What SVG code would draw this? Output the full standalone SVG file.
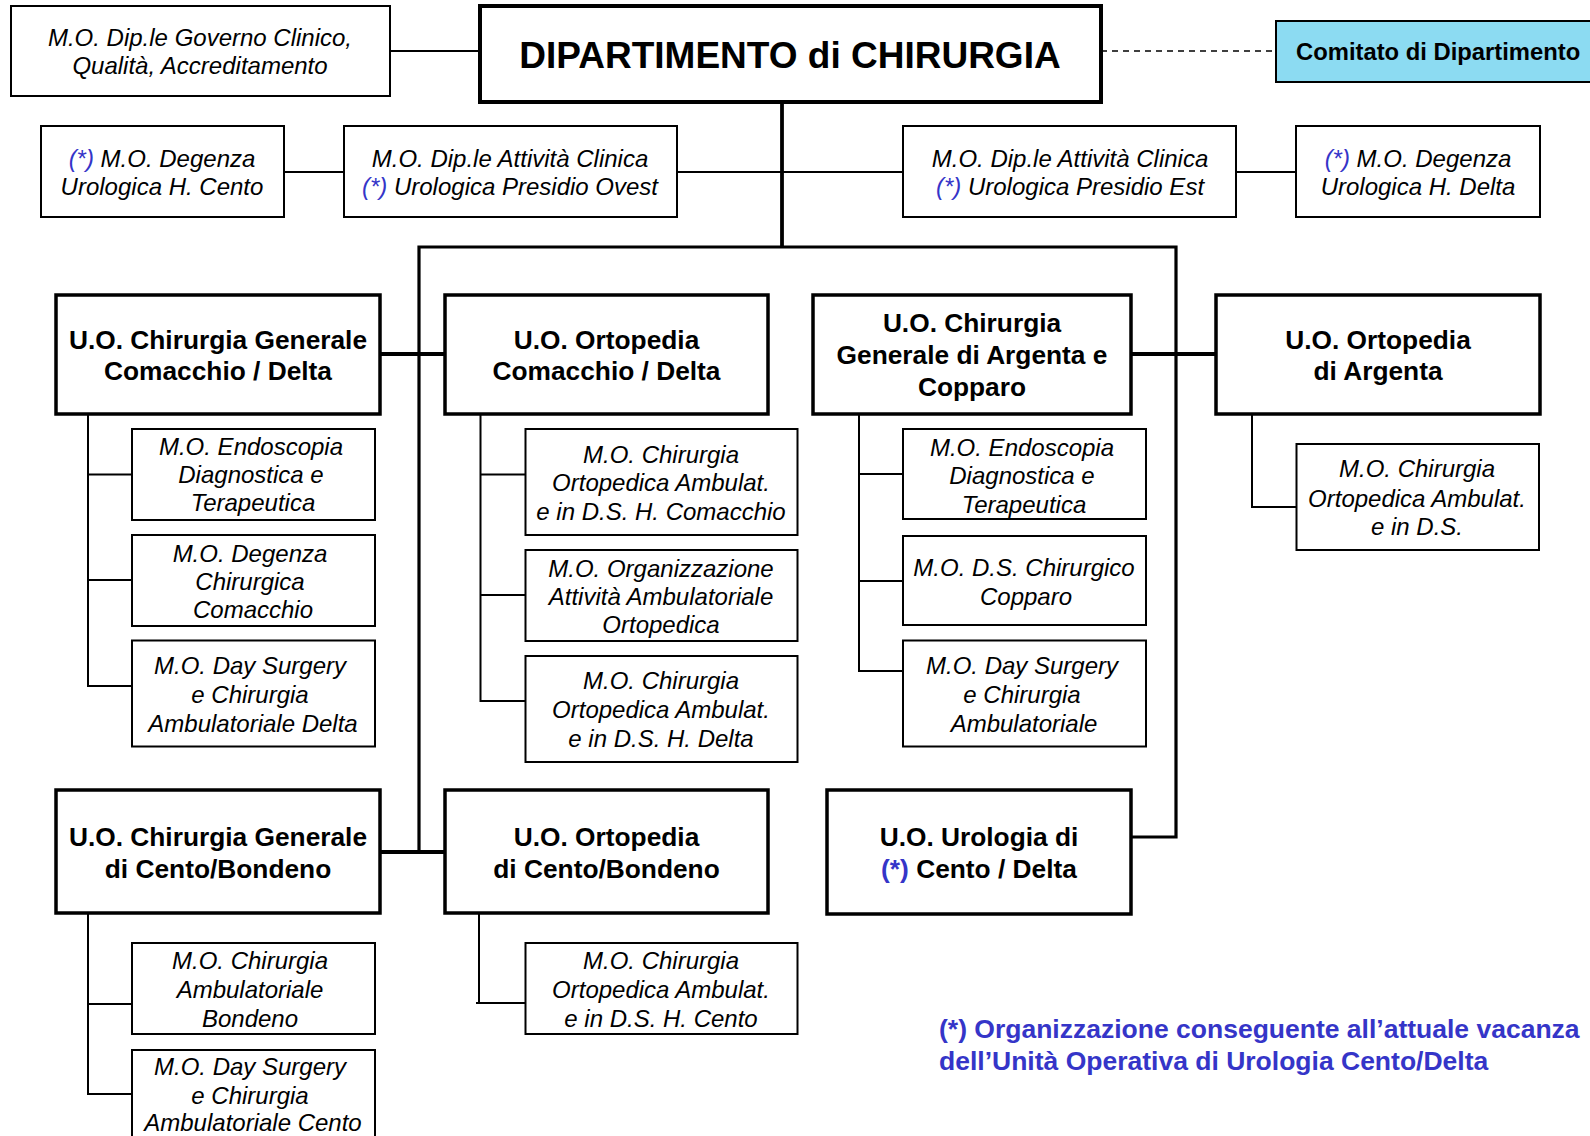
<svg xmlns="http://www.w3.org/2000/svg" width="1590" height="1136" viewBox="0 0 1590 1136">
<style>
  .bg{fill:#ffffff}
  .box{fill:#ffffff;stroke:#000;stroke-width:2}
  .uo{fill:#ffffff;stroke:#000;stroke-width:3.5}
  .dip{fill:#ffffff;stroke:#000;stroke-width:4}
  .com{fill:#8cdbf2;stroke:#000;stroke-width:2}
  .mo{font-family:"Liberation Sans",Arial,sans-serif;font-style:italic;font-size:24px;fill:#000;text-anchor:middle}
  .uot{font-family:"Liberation Sans",Arial,sans-serif;font-weight:bold;font-size:26.3px;fill:#000;text-anchor:middle}
  .star{fill:#3535c8}
  .note{font-family:"Liberation Sans",Arial,sans-serif;font-weight:bold;font-size:26.5px;fill:#3535c8}
  .c{stroke:#000;stroke-width:2;fill:none}
  .ct{stroke:#000;stroke-width:3.2;fill:none}
  .cth{stroke:#000;stroke-width:3.8;fill:none}
  .dash{stroke:#000;stroke-width:1.6;stroke-dasharray:6 5;fill:none}
</style>
<rect class="bg" x="0" y="0" width="1590" height="1136"/>

<g id="connectors">
  <line class="c" x1="390" y1="51" x2="480" y2="51"/>
  <line class="dash" x1="1101" y1="51" x2="1276" y2="51"/>
  <line class="cth" x1="782" y1="101" x2="782" y2="247"/>
  <line class="c" x1="284" y1="172" x2="344" y2="172"/>
  <line class="c" x1="677" y1="172" x2="903" y2="172"/>
  <line class="c" x1="1236" y1="172" x2="1296" y2="172"/>
  <polyline class="ct" points="419,852 419,247 1176,247 1176,837 1131,837"/>
  <line class="cth" x1="375" y1="354" x2="449" y2="354"/>
  <line class="cth" x1="1131" y1="354" x2="1220" y2="354"/>
  <line class="cth" x1="375" y1="852" x2="449" y2="852"/>
  <polyline class="c" points="88,414 88,686 132,686"/>
  <line class="c" x1="88" y1="474.5" x2="132" y2="474.5"/>
  <line class="c" x1="88" y1="580" x2="132" y2="580"/>
  <polyline class="c" points="480.5,414 480.5,701 525.5,701"/>
  <line class="c" x1="480.5" y1="474.5" x2="525.5" y2="474.5"/>
  <line class="c" x1="480.5" y1="595" x2="525.5" y2="595"/>
  <polyline class="c" points="859,414 859,671 903,671"/>
  <line class="c" x1="859" y1="474" x2="903" y2="474"/>
  <line class="c" x1="859" y1="581" x2="903" y2="581"/>
  <polyline class="c" points="1252,414 1252,507 1296.5,507"/>
  <polyline class="c" points="88,913 88,1094 132,1094"/>
  <line class="c" x1="88" y1="1004" x2="132" y2="1004"/>
  <line class="c" x1="479" y1="909" x2="479" y2="1003"/>
  <line class="c" x1="476" y1="1003" x2="525.5" y2="1003"/>
</g>

<g id="n-gov">
  <rect class="box" x="11" y="6" width="379" height="90"/>
  <text class="mo" x="200" y="46">M.O. Dip.le Governo Clinico,</text>
  <text class="mo" x="200" y="73.5">Qualità, Accreditamento</text>
</g>
<g id="n-dip">
  <rect class="dip" x="480" y="6" width="621" height="96"/>
  <text x="790" y="68" font-family="Liberation Sans, Arial, sans-serif" font-weight="bold" font-size="37px" text-anchor="middle">DIPARTIMENTO di CHIRURGIA</text>
</g>
<g id="n-comitato">
  <rect class="com" x="1276" y="21" width="330" height="61"/>
  <text x="1296" y="60" font-family="Liberation Sans, Arial, sans-serif" font-weight="bold" font-size="23.8px">Comitato di Dipartimento</text>
</g>

<g id="n-deg-cento">
  <rect class="box" x="41" y="126" width="243" height="91"/>
  <text class="mo" x="162" y="167"><tspan class="star">(*)</tspan> M.O. Degenza</text>
  <text class="mo" x="162" y="195">Urologica H. Cento</text>
</g>
<g id="n-ovest">
  <rect class="box" x="344" y="126" width="333" height="91"/>
  <text class="mo" x="510" y="167">M.O. Dip.le Attività Clinica</text>
  <text class="mo" x="510" y="195"><tspan class="star">(*)</tspan> Urologica Presidio Ovest</text>
</g>
<g id="n-est">
  <rect class="box" x="903" y="126" width="333" height="91"/>
  <text class="mo" x="1070" y="167">M.O. Dip.le Attività Clinica</text>
  <text class="mo" x="1070" y="195"><tspan class="star">(*)</tspan> Urologica Presidio Est</text>
</g>
<g id="n-deg-delta">
  <rect class="box" x="1296" y="126" width="244" height="91"/>
  <text class="mo" x="1418" y="167"><tspan class="star">(*)</tspan> M.O. Degenza</text>
  <text class="mo" x="1418" y="195">Urologica H. Delta</text>
</g>

<g id="n-uo-chir-comacchio">
  <rect class="uo" x="56" y="295" width="324" height="119"/>
  <text class="uot" x="218" y="349">U.O. Chirurgia Generale</text>
  <text class="uot" x="218" y="380">Comacchio / Delta</text>
</g>
<g id="n-uo-orto-comacchio">
  <rect class="uo" x="445" y="295" width="323" height="119"/>
  <text class="uot" x="606.5" y="349">U.O. Ortopedia</text>
  <text class="uot" x="606.5" y="380">Comacchio / Delta</text>
</g>
<g id="n-uo-chir-argenta">
  <rect class="uo" x="813" y="295" width="318" height="119"/>
  <text class="uot" x="972" y="332">U.O. Chirurgia</text>
  <text class="uot" x="972" y="364">Generale di Argenta e</text>
  <text class="uot" x="972" y="396">Copparo</text>
</g>
<g id="n-uo-orto-argenta">
  <rect class="uo" x="1216" y="295" width="324" height="119"/>
  <text class="uot" x="1378" y="349">U.O. Ortopedia</text>
  <text class="uot" x="1378" y="380">di Argenta</text>
</g>

<g id="n-endo-com">
  <rect class="box" x="132" y="429" width="243" height="91"/>
  <text class="mo" x="251" y="455">M.O. Endoscopia</text>
  <text class="mo" x="251" y="483">Diagnostica e</text>
  <text class="mo" x="253" y="511">Terapeutica</text>
</g>
<g id="n-degchir-com">
  <rect class="box" x="132" y="535" width="243" height="91"/>
  <text class="mo" x="250" y="561.5">M.O. Degenza</text>
  <text class="mo" x="250" y="589.5">Chirurgica</text>
  <text class="mo" x="253" y="618">Comacchio</text>
</g>
<g id="n-ds-delta">
  <rect class="box" x="132" y="640.5" width="243" height="106"/>
  <text class="mo" x="250" y="674">M.O. Day Surgery</text>
  <text class="mo" x="250" y="703">e Chirurgia</text>
  <text class="mo" x="253" y="731.5">Ambulatoriale Delta</text>
</g>

<g id="n-orto-com-a">
  <rect class="box" x="525.5" y="429" width="272" height="106"/>
  <text class="mo" x="661" y="463">M.O. Chirurgia</text>
  <text class="mo" x="661" y="491">Ortopedica Ambulat.</text>
  <text class="mo" x="661" y="519.5">e in D.S. H. Comacchio</text>
</g>
<g id="n-orto-com-b">
  <rect class="box" x="525.5" y="550" width="272" height="91"/>
  <text class="mo" x="661" y="576.5">M.O. Organizzazione</text>
  <text class="mo" x="661" y="604.5">Attività Ambulatoriale</text>
  <text class="mo" x="661" y="633">Ortopedica</text>
</g>
<g id="n-orto-com-c">
  <rect class="box" x="525.5" y="656" width="272" height="106"/>
  <text class="mo" x="661" y="689">M.O. Chirurgia</text>
  <text class="mo" x="661" y="718">Ortopedica Ambulat.</text>
  <text class="mo" x="661" y="746.5">e in D.S. H. Delta</text>
</g>

<g id="n-endo-arg">
  <rect class="box" x="903" y="429" width="243" height="90"/>
  <text class="mo" x="1022" y="455.5">M.O. Endoscopia</text>
  <text class="mo" x="1022" y="484">Diagnostica e</text>
  <text class="mo" x="1024" y="512.5">Terapeutica</text>
</g>
<g id="n-ds-copparo">
  <rect class="box" x="903" y="536" width="243" height="89"/>
  <text class="mo" x="1024" y="575.5">M.O. D.S. Chirurgico</text>
  <text class="mo" x="1026" y="604.5">Copparo</text>
</g>
<g id="n-ds-arg">
  <rect class="box" x="903" y="640.5" width="243" height="106"/>
  <text class="mo" x="1022" y="674">M.O. Day Surgery</text>
  <text class="mo" x="1022" y="703">e Chirurgia</text>
  <text class="mo" x="1024" y="731.5">Ambulatoriale</text>
</g>

<g id="n-orto-arg-sub">
  <rect class="box" x="1296.5" y="444" width="242.5" height="106"/>
  <text class="mo" x="1417" y="477">M.O. Chirurgia</text>
  <text class="mo" x="1417" y="506.5">Ortopedica Ambulat.</text>
  <text class="mo" x="1417" y="535">e in D.S.</text>
</g>

<g id="n-uo-chir-cento">
  <rect class="uo" x="56" y="790" width="324" height="123"/>
  <text class="uot" x="218" y="846">U.O. Chirurgia Generale</text>
  <text class="uot" x="218" y="878">di Cento/Bondeno</text>
</g>
<g id="n-uo-orto-cento">
  <rect class="uo" x="445" y="790" width="323" height="123"/>
  <text class="uot" x="606.5" y="846">U.O. Ortopedia</text>
  <text class="uot" x="606.5" y="878">di Cento/Bondeno</text>
</g>
<g id="n-uo-urologia">
  <rect class="uo" x="827" y="790" width="304" height="124"/>
  <text class="uot" x="979" y="846">U.O. Urologia di</text>
  <text class="uot" x="979" y="878"><tspan class="star">(*)</tspan> Cento / Delta</text>
</g>

<g id="n-amb-bondeno">
  <rect class="box" x="132" y="943" width="243" height="91"/>
  <text class="mo" x="250" y="968.5">M.O. Chirurgia</text>
  <text class="mo" x="250" y="998">Ambulatoriale</text>
  <text class="mo" x="250" y="1026.5">Bondeno</text>
</g>
<g id="n-ds-cento">
  <rect class="box" x="132" y="1050" width="243" height="100"/>
  <text class="mo" x="250" y="1075">M.O. Day Surgery</text>
  <text class="mo" x="250" y="1103.5">e Chirurgia</text>
  <text class="mo" x="253" y="1131">Ambulatoriale Cento</text>
</g>
<g id="n-orto-cento-sub">
  <rect class="box" x="525.5" y="943" width="272" height="91"/>
  <text class="mo" x="661" y="968.5">M.O. Chirurgia</text>
  <text class="mo" x="661" y="998">Ortopedica Ambulat.</text>
  <text class="mo" x="661" y="1026.5">e in D.S. H. Cento</text>
</g>

<g id="footnote">
  <text class="note" x="939" y="1038">(*) Organizzazione conseguente all’attuale vacanza</text>
  <text class="note" x="939" y="1070">dell’Unità Operativa di Urologia Cento/Delta</text>
</g>
</svg>
